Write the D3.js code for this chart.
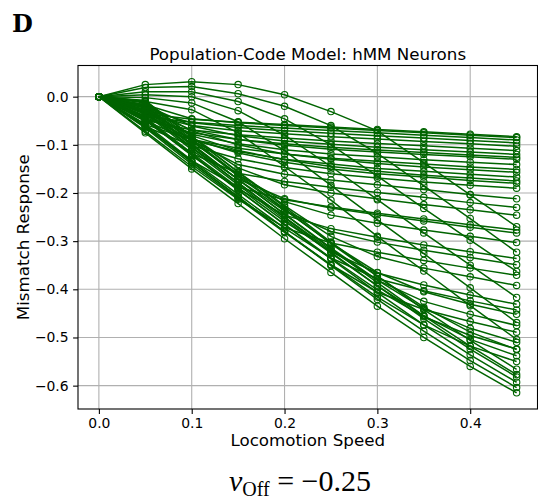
<!DOCTYPE html>
<html>
<head>
<meta charset="utf-8">
<script src="https://cdn.jsdelivr.net/npm/d3@7"></script>
<style>
  body { margin: 0; background: #fff; }
  svg { display: block; font-family: "DejaVu Sans", sans-serif; }
</style>
</head>
<body>
<svg id="frame" width="538" height="503"></svg>
<script>
  // locomotion speeds where every neuron was sampled
  var speeds = [0, 0.05, 0.1, 0.15, 0.2, 0.25, 0.3, 0.35, 0.4, 0.45];
  var xTicks = [0, 0.1, 0.2, 0.3, 0.4];
  var yTicks = [0, -0.1, -0.2, -0.3, -0.4, -0.5, -0.6];

  // neurons whose response first rises a little, then drops
  var risingFirst = [
    [0, 0.025, 0.031, 0.025, 0.004, -0.031, -0.071, -0.137, -0.204, -0.270],
    [0, 0.019, 0.021, 0.006, -0.020, -0.060, -0.118, -0.185, -0.253, -0.323],
    [0, 0.010, 0.010, -0.010, -0.046, -0.100, -0.165, -0.232, -0.298, -0.363],
    [0, 0.004, 0.000, -0.029, -0.080, -0.145, -0.214, -0.283, -0.350, -0.417],
    [0, -0.002, -0.013, -0.052, -0.112, -0.184, -0.256, -0.326, -0.397, -0.469],
    [0, -0.010, -0.027, -0.075, -0.145, -0.215, -0.290, -0.362, -0.434, -0.504]
  ];

  // neurons that level off early (shallow at high speed)
  var levelEarly = [
    [0, -0.035, -0.047, -0.053, -0.058, -0.063, -0.068, -0.073, -0.078, -0.083],
    [0, -0.017, -0.046, -0.054, -0.060, -0.065, -0.070, -0.075, -0.080, -0.085],
    [0, -0.041, -0.053, -0.060, -0.065, -0.070, -0.075, -0.080, -0.085, -0.090],
    [0, -0.027, -0.054, -0.064, -0.071, -0.076, -0.081, -0.086, -0.091, -0.096],
    [0, -0.036, -0.060, -0.071, -0.077, -0.083, -0.088, -0.093, -0.098, -0.103],
    [0, -0.049, -0.069, -0.079, -0.086, -0.092, -0.097, -0.102, -0.107, -0.112],
    [0, -0.018, -0.061, -0.081, -0.092, -0.099, -0.105, -0.110, -0.115, -0.120],
    [0, -0.046, -0.075, -0.089, -0.098, -0.105, -0.111, -0.116, -0.121, -0.126],
    [0, -0.030, -0.069, -0.089, -0.101, -0.109, -0.115, -0.120, -0.125, -0.130],
    [0, -0.040, -0.078, -0.098, -0.110, -0.119, -0.125, -0.131, -0.136, -0.141],
    [0, -0.058, -0.089, -0.107, -0.119, -0.128, -0.134, -0.140, -0.146, -0.151],
    [0, -0.019, -0.071, -0.100, -0.119, -0.130, -0.139, -0.146, -0.152, -0.157],
    [0, -0.051, -0.090, -0.114, -0.130, -0.140, -0.149, -0.155, -0.161, -0.167],
    [0, -0.031, -0.081, -0.112, -0.131, -0.145, -0.155, -0.163, -0.169, -0.175],
    [0, -0.042, -0.088, -0.117, -0.136, -0.150, -0.160, -0.167, -0.174, -0.180],
    [0, -0.062, -0.102, -0.129, -0.147, -0.160, -0.169, -0.177, -0.184, -0.190]
  ];

  // neurons that follow the steep edge longer before bending
  var levelLate = [
    [0, -0.021, -0.091, -0.141, -0.161, -0.173, -0.183, -0.193, -0.203, -0.212],
    [0, -0.050, -0.118, -0.159, -0.176, -0.188, -0.199, -0.209, -0.220, -0.230],
    [0, -0.011, -0.083, -0.148, -0.183, -0.200, -0.212, -0.224, -0.235, -0.246],
    [0, -0.063, -0.133, -0.188, -0.214, -0.229, -0.242, -0.254, -0.266, -0.277],
    [0, -0.033, -0.106, -0.171, -0.212, -0.231, -0.245, -0.258, -0.271, -0.283],
    [0, -0.019, -0.093, -0.162, -0.218, -0.246, -0.263, -0.277, -0.290, -0.303],
    [0, -0.049, -0.122, -0.191, -0.246, -0.274, -0.292, -0.308, -0.322, -0.336],
    [0, -0.027, -0.101, -0.172, -0.237, -0.280, -0.302, -0.319, -0.334, -0.349],
    [0, -0.072, -0.145, -0.213, -0.272, -0.304, -0.323, -0.340, -0.356, -0.371],
    [0, -0.009, -0.083, -0.156, -0.226, -0.290, -0.332, -0.356, -0.374, -0.392],
    [0, -0.043, -0.117, -0.189, -0.259, -0.322, -0.366, -0.391, -0.412, -0.431],
    [0, -0.057, -0.132, -0.203, -0.273, -0.335, -0.378, -0.403, -0.424, -0.443],
    [0, -0.017, -0.091, -0.165, -0.235, -0.304, -0.365, -0.405, -0.431, -0.452],
    [0, -0.032, -0.106, -0.179, -0.250, -0.319, -0.381, -0.425, -0.452, -0.475],
    [0, -0.065, -0.140, -0.211, -0.282, -0.349, -0.406, -0.442, -0.467, -0.489],
    [0, -0.024, -0.099, -0.172, -0.244, -0.314, -0.381, -0.440, -0.481, -0.510],
    [0, -0.047, -0.121, -0.194, -0.265, -0.335, -0.401, -0.457, -0.496, -0.524],
    [0, -0.013, -0.088, -0.162, -0.233, -0.305, -0.373, -0.437, -0.489, -0.525],
    [0, -0.036, -0.110, -0.183, -0.255, -0.325, -0.393, -0.455, -0.504, -0.538],
    [0, -0.062, -0.136, -0.208, -0.280, -0.349, -0.416, -0.474, -0.518, -0.550]
  ];

  // neurons that keep falling over the whole speed range
  var neverLevel = [
    [0, -0.008, -0.083, -0.157, -0.229, -0.302, -0.372, -0.442, -0.506, -0.566],
    [0, -0.023, -0.098, -0.172, -0.244, -0.316, -0.386, -0.455, -0.518, -0.577],
    [0, -0.030, -0.105, -0.179, -0.251, -0.323, -0.393, -0.461, -0.524, -0.582],
    [0, -0.045, -0.120, -0.193, -0.266, -0.337, -0.407, -0.474, -0.536, -0.593],
    [0, -0.060, -0.135, -0.208, -0.280, -0.351, -0.421, -0.487, -0.548, -0.604],
    [0, -0.075, -0.150, -0.222, -0.295, -0.365, -0.435, -0.500, -0.560, -0.615]
  ];

  var lineColor = '#006400';
  var svg = d3.select('#frame');

  var axLeft = 78, axRight = 537.5, axTop = 65.5, axBottom = 409;
  var x = d3.scaleLinear().domain([-0.0225, 0.4725]).range([axLeft, axRight]);
  var y = d3.scaleLinear().domain([-0.6485, 0.0647]).range([axBottom, axTop]);

  // grid
  var grid = svg.append('g').attr('stroke', '#b0b0b0').attr('stroke-width', 1.1);
  grid.selectAll('.gx').data(xTicks).enter().append('line')
    .attr('x1', function(d){ return x(d); }).attr('x2', function(d){ return x(d); })
    .attr('y1', axTop).attr('y2', axBottom);
  grid.selectAll('.gy').data(yTicks).enter().append('line')
    .attr('y1', function(d){ return y(d); }).attr('y2', function(d){ return y(d); })
    .attr('x1', axLeft).attr('x2', axRight);

  // all neurons, one polyline + open markers each
  var allNeurons = risingFirst.concat(levelEarly, levelLate, neverLevel);
  var line = d3.line()
    .x(function(d, i){ return x(speeds[i]); })
    .y(function(d){ return y(d); });

  var plot = svg.append('g');
  allNeurons.forEach(function(resp){
    plot.append('path')
      .attr('d', line(resp))
      .attr('fill', 'none')
      .attr('stroke', lineColor)
      .attr('stroke-width', 1.5);
    plot.append('g').selectAll('circle')
      .data(resp).enter().append('circle')
      .attr('cx', function(d, i){ return x(speeds[i]); })
      .attr('cy', function(d){ return y(d); })
      .attr('r', 3.2)
      .attr('fill', 'none')
      .attr('stroke', lineColor)
      .attr('stroke-width', 1.1);
  });

  // axes
  var fmt = d3.format('.1f');
  var xAxis = svg.append('g')
    .attr('transform', 'translate(0,' + axBottom + ')')
    .call(d3.axisBottom(x).tickValues(xTicks).tickFormat(fmt).tickSize(4.9).tickPadding(4.5));
  var yAxis = svg.append('g')
    .attr('transform', 'translate(' + axLeft + ',0)')
    .call(d3.axisLeft(y).tickValues(yTicks).tickFormat(fmt).tickSize(4.9).tickPadding(4.5));
  [xAxis, yAxis].forEach(function(a){
    a.select('.domain').remove();
    a.selectAll('line').attr('stroke', '#000').attr('stroke-width', 1.1);
    a.selectAll('text').attr('fill', '#000')
      .style('font-family', 'DejaVu Sans').style('font-size', '13.9px');
  });

  svg.append('rect')
    .attr('x', axLeft).attr('y', axTop)
    .attr('width', axRight - axLeft).attr('height', axBottom - axTop)
    .attr('fill', 'none').attr('stroke', '#000').attr('stroke-width', 1.1);

  // labels
  svg.append('text')
    .attr('x', (axLeft + axRight) / 2).attr('y', 59.5)
    .attr('text-anchor', 'middle')
    .style('font-size', '16.7px')
    .text('Population-Code Model: hMM Neurons');

  svg.append('text')
    .attr('x', (axLeft + axRight) / 2).attr('y', 446)
    .attr('text-anchor', 'middle')
    .style('font-size', '16.7px')
    .text('Locomotion Speed');

  svg.append('text')
    .attr('transform', 'translate(28.5,' + ((axTop + axBottom) / 2) + ') rotate(-90)')
    .attr('text-anchor', 'middle')
    .style('font-size', '16.7px')
    .text('Mismatch Response');

  svg.append('text')
    .attr('x', 12).attr('y', 32)
    .style('font-family', 'DejaVu Serif')
    .style('font-weight', 'bold')
    .style('font-size', '24px')
    .text('D');

  var formula = svg.append('text')
    .attr('x', 300).attr('y', 491)
    .attr('text-anchor', 'middle')
    .style('font-family', 'Liberation Serif')
    .style('font-size', '30px');
  formula.append('tspan').style('font-style', 'italic').text('v');
  formula.append('tspan').attr('dy', 5).style('font-size', '20px').text('Off');
  formula.append('tspan').attr('dy', -5).text(' = \u22120.25');
</script>
</body>
</html>
